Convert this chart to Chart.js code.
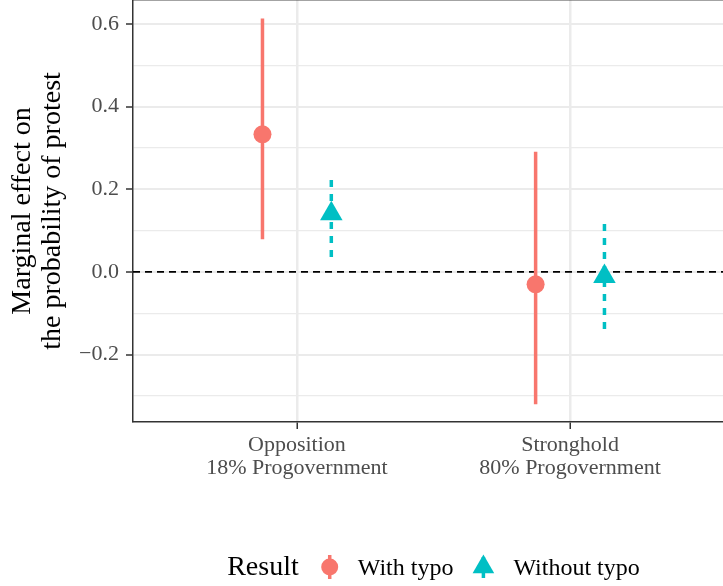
<!DOCTYPE html>
<html><head><meta charset="utf-8">
<script src="https://cdn.jsdelivr.net/npm/chart.js@4.4.0/dist/chart.umd.min.js"></script>
<style>html,body{margin:0;padding:0;background:#fff;overflow:hidden}#wrap{width:723px;height:586px;position:relative}</style>
</head><body><div id="wrap"><canvas id="c" width="723" height="586"></canvas></div>
<script>
// ---- data ----
const categories = ['Opposition', 'Stronghold'];
const categorySubtitles = ['18% Progovernment', '80% Progovernment'];
const seriesNames = ['With typo', 'Without typo'];
const withTypoEstimate = [0.333, -0.030];
const withTypoLower = [0.079, -0.320];
const withTypoUpper = [0.613, 0.291];
const withoutTypoEstimate = [0.141, -0.011];
const withoutTypoLower = [0.036, -0.138];
const withoutTypoUpper = [0.232, 0.117];
const yTickValues = [-0.2, 0.0, 0.2, 0.4, 0.6];
const yTickLabels = ['\u22120.2', '0.0', '0.2', '0.4', '0.6'];
const yAxisTitle = ['Marginal effect on', 'the probability of protest'];
const legendTitle = 'Result';
const referenceValue = 0;

// ---- styling / layout ----
const FONT = '"Liberation Serif", "Times New Roman", serif';
const RED = '#F8766D', CYAN = '#00BFC4';
const DODGE = 0.126;
const X_MIN = 0.4, X_MAX = 2.56;
const Y_MIN = -0.363, Y_MAX = 0.658;

function pts(est, off) { return categories.map((c, i) => ({x: i + 1 + off, y: est[i]})); }
function bars(lo, hi, off) {
  const d = [];
  categories.forEach((c, i) => { d.push({x: i + 1 + off, y: lo[i]}, {x: i + 1 + off, y: hi[i]}, {x: i + 1 + off, y: null}); });
  return d;
}
const isMajor = v => Math.round(v * 10) % 2 === 0;

const legendPlugin = {
  id: 'ggLegend',
  afterDraw(chart) {
    const ctx = chart.ctx;
    const xs = chart.scales.x;
    const cy = chart.height - 19;
    const panelL = chart.chartArea.left;
    const panelR = xs.getPixelForValue(categories.length + 0.6);
    ctx.save();
    ctx.font = '28px ' + FONT;
    const wT = ctx.measureText(legendTitle).width;
    ctx.font = '24px ' + FONT;
    const w1 = ctx.measureText(seriesNames[0]).width;
    const w2 = ctx.measureText(seriesNames[1]).width;
    const total = wT + 59 + w1 + 60 + w2;
    let x0 = (panelL + panelR) / 2 - total / 2;
    ctx.fillStyle = '#000';
    ctx.textBaseline = 'alphabetic';
    ctx.textAlign = 'left';
    ctx.font = '28px ' + FONT;
    ctx.fillText(legendTitle, x0, cy + 8);
    // key 1
    const k1 = x0 + wT + 31;
    ctx.strokeStyle = RED; ctx.lineWidth = 3.5;
    ctx.beginPath(); ctx.moveTo(k1, cy - 12); ctx.lineTo(k1, cy + 12); ctx.stroke();
    ctx.fillStyle = RED;
    ctx.beginPath(); ctx.arc(k1, cy, 8.5, 0, Math.PI * 2); ctx.fill();
    ctx.fillStyle = '#000';
    ctx.font = '24px ' + FONT;
    const t1 = x0 + wT + 59;
    ctx.fillText(seriesNames[0], t1, cy + 7.5);
    // key 2
    const k2 = t1 + w1 + 30;
    ctx.strokeStyle = CYAN; ctx.lineWidth = 3.5; ctx.setLineDash([7, 7]);
    ctx.beginPath(); ctx.moveTo(k2, cy + 11); ctx.lineTo(k2, cy - 12); ctx.stroke();
    ctx.setLineDash([]);
    ctx.fillStyle = CYAN;
    const r = 12.5;
    ctx.beginPath();
    ctx.moveTo(k2, cy - r);
    ctx.lineTo(k2 + r * Math.sqrt(3) / 2, cy + r / 2);
    ctx.lineTo(k2 - r * Math.sqrt(3) / 2, cy + r / 2);
    ctx.closePath(); ctx.fill();
    ctx.fillStyle = '#000';
    ctx.fillText(seriesNames[1], k2 + 30, cy + 7.5);
    ctx.restore();
  }
};

const borderPlugin = {
  id: 'panelTop',
  afterDatasetsDraw(chart) {
    const ctx = chart.ctx, a = chart.chartArea;
    ctx.save();
    ctx.strokeStyle = 'rgba(51,51,51,0.45)';
    ctx.lineWidth = 1;
    ctx.beginPath(); ctx.moveTo(a.left, a.top + 0.5); ctx.lineTo(a.right, a.top + 0.5); ctx.stroke();
    ctx.restore();
  }
};

new Chart(document.getElementById('c'), {
  type: 'scatter',
  data: {
    datasets: [
      {label: seriesNames[0], data: pts(withTypoEstimate, -DODGE), pointStyle: 'circle', pointRadius: 9, pointHoverRadius: 9,
       backgroundColor: RED, borderColor: RED, borderWidth: 0, showLine: false},
      {label: seriesNames[1], data: pts(withoutTypoEstimate, DODGE), pointStyle: 'triangle', pointRadius: 13, pointHoverRadius: 13,
       backgroundColor: CYAN, borderColor: CYAN, borderWidth: 0, showLine: false},
      {label: seriesNames[0] + ' CI', data: bars(withTypoLower, withTypoUpper, -DODGE), showLine: true, spanGaps: false,
       pointRadius: 0, borderColor: RED, borderWidth: 3.5, borderCapStyle: 'butt'},
      {label: seriesNames[1] + ' CI', data: bars(withoutTypoLower, withoutTypoUpper, DODGE), showLine: true, spanGaps: false,
       pointRadius: 0, borderColor: CYAN, borderWidth: 3.5, borderDash: [7, 7], borderCapStyle: 'butt'},
      {label: 'reference', data: [{x: X_MIN, y: referenceValue}, {x: X_MAX, y: referenceValue}], showLine: true,
       pointRadius: 0, borderColor: '#000', borderWidth: 1.8, borderDash: [7, 5]}
    ]
  },
  options: {
    responsive: false,
    maintainAspectRatio: false,
    animation: false,
    devicePixelRatio: 1,
    layout: {autoPadding: false, padding: {left: 0, right: 0, top: 0, bottom: 0}},
    plugins: {legend: {display: false}, tooltip: {enabled: false}},
    scales: {
      x: {
        type: 'linear', min: X_MIN, max: X_MAX,
        afterBuildTicks: s => { s.ticks = categories.map((c, i) => ({value: i + 1})); },
        afterFit: s => { s.height = 164; s.paddingLeft = 0; s.paddingRight = 0; },
        ticks: {
          autoSkip: false, maxRotation: 0, padding: 5, color: '#4d4d4d',
          font: {family: FONT, size: 22, lineHeight: 1.045},
          callback: v => { const i = Math.round(v) - 1; return [categories[i], categorySubtitles[i]]; }
        },
        grid: {color: '#ebebeb', lineWidth: 2.5, tickColor: '#333', tickLength: 7, tickWidth: 1.5},
        border: {color: '#333', width: 1.5}
      },
      y: {
        type: 'linear', min: Y_MIN, max: Y_MAX,
        afterFit: s => { s.width = 133; s.paddingTop = 0; s.paddingBottom = 0; },
        ticks: {
          stepSize: 0.1, includeBounds: false, padding: 7, color: '#4d4d4d',
          font: {family: FONT, size: 22},
          callback: v => { const i = yTickValues.findIndex(t => Math.abs(t - v) < 1e-6); return i >= 0 ? yTickLabels[i] : ''; }
        },
        grid: {
          color: '#ebebeb',
          lineWidth: c => (c.tick && isMajor(c.tick.value)) ? 2 : 1.2,
          tickColor: c => (c.tick && isMajor(c.tick.value)) ? '#333' : 'rgba(0,0,0,0)',
          tickLength: 7, tickWidth: 1.5
        },
        border: {color: '#333', width: 1.5},
        title: {display: true, text: yAxisTitle, color: '#000', font: {family: FONT, size: 28, lineHeight: 1.07}, padding: {top: 8, bottom: 0}}
      }
    }
  },
  plugins: [borderPlugin, legendPlugin]
});
</script>
</body></html>
